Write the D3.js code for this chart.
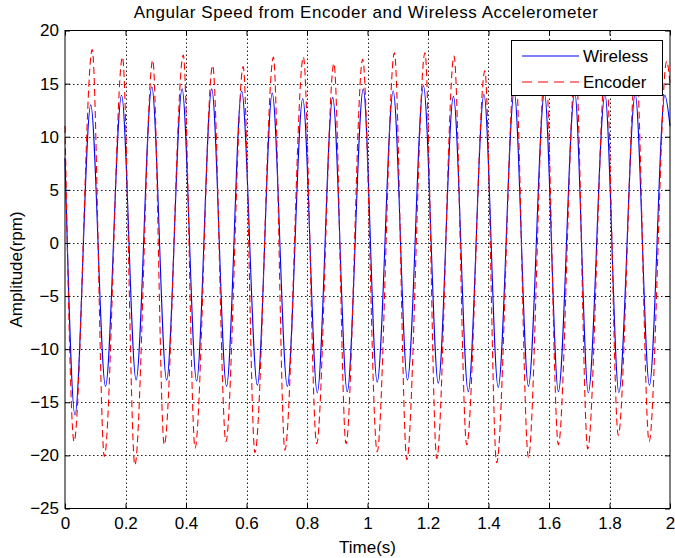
<!DOCTYPE html>
<html>
<head>
<meta charset="utf-8">
<script src="https://d3js.org/d3.v7.min.js"></script>
<style>
  body { margin: 0; background: #fff; }
  text { font-family: "Liberation Sans", Arial, sans-serif; fill: #000; }
</style>
</head>
<body>
<script>
// extrema of each trace (time in s, amplitude in rpm)
const wirelessT = [0, 0.033, 0.085, 0.134, 0.187, 0.235, 0.287, 0.336, 0.387, 0.435, 0.485,
  0.534, 0.584, 0.636, 0.685, 0.735, 0.786, 0.834, 0.885, 0.933, 0.986, 1.032, 1.085, 1.132,
  1.185, 1.234, 1.284, 1.333, 1.385, 1.432, 1.485, 1.532, 1.585, 1.631, 1.685, 1.730, 1.785,
  1.831, 1.885, 1.932, 1.983, 2.0];
const wirelessV = [8, -16.2, 13.0, -13.5, 13.9, -12.9, 14.7, -12.9, 14.5, -13.0, 14.5,
  -13.5, 14.3, -13.4, 14.1, -13.5, 13.6, -14.1, 13.7, -14.0, 14.5, -13.1, 14.3, -12.9,
  14.8, -13.2, 13.8, -14.0, 14.0, -13.6, 14.2, -13.5, 14.1, -14.0, 14.2, -14.1, 14.0,
  -14.1, 14.0, -13.4, 13.9, 11];

const encoderT = [0, 0.030, 0.090, 0.130, 0.190, 0.231, 0.290, 0.328, 0.391, 0.430, 0.488,
  0.532, 0.589, 0.628, 0.689, 0.727, 0.788, 0.832, 0.889, 0.929, 0.984, 1.032, 1.089, 1.130,
  1.190, 1.229, 1.286, 1.328, 1.388, 1.427, 1.488, 1.532, 1.588, 1.631, 1.688, 1.728, 1.788,
  1.829, 1.888, 1.931, 1.989, 2.0];
const encoderV = [11, -18.7, 18.2, -20.1, 17.5, -20.9, 17.2, -19.0, 17.7, -19.3, 16.7,
  -18.7, 16.6, -19.75, 17.5, -19.5, 17.5, -18.9, 16.9, -18.9, 17.3, -19.65, 17.9, -20.4,
  17.9, -20.3, 17.6, -19.0, 16.2, -20.7, 17.0, -20.2, 17.0, -19.0, 17.0, -19.4, 17.0,
  -18.1, 17.0, -18.7, 17.1, 15];

const xTicks = [0, 0.2, 0.4, 0.6, 0.8, 1, 1.2, 1.4, 1.6, 1.8, 2];
const yTicks = [-25, -20, -15, -10, -5, 0, 5, 10, 15, 20];
const seriesNames = ["Wireless", "Encoder"];

let width = 675,
    height = 558;
let pLeft = 65, pRight = 670, pTop = 30.5, pBottom = 508.5;

let svg = d3.select("body").append("svg")
    .attr("width", width)
    .attr("height", height);

let x = d3.scaleLinear().domain([0, 2]).range([pLeft, pRight]);
let y = d3.scaleLinear().domain([-25, 20]).range([pBottom, pTop]);

// grid
let grid = svg.append("g")
    .attr("stroke", "#222")
    .attr("stroke-width", 1)
    .attr("stroke-dasharray", "1.5,2.5");
grid.selectAll("line.gx")
    .data(xTicks.slice(1, -1))
    .join("line")
      .attr("class", "gx")
      .attr("x1", d => Math.round(x(d)) + 0.5)
      .attr("x2", d => Math.round(x(d)) + 0.5)
      .attr("y1", pTop)
      .attr("y2", pBottom);
grid.selectAll("line.gy")
    .data(yTicks.slice(1, -1))
    .join("line")
      .attr("class", "gy")
      .attr("x1", pLeft)
      .attr("x2", pRight)
      .attr("y1", d => Math.round(y(d)) + 0.5)
      .attr("y2", d => Math.round(y(d)) + 0.5);

// traces
let line = d3.line().curve(d3.curveMonotoneX);
let wirelessPts = wirelessT.map((t, i) => [x(t), y(wirelessV[i])]);
let encoderPts = encoderT.map((t, i) => [x(t), y(encoderV[i])]);

let plot = svg.append("g");
plot.append("path")
    .attr("d", line(wirelessPts))
    .attr("fill", "none")
    .attr("stroke", "#0000ff")
    .attr("stroke-width", 1.1);
plot.append("path")
    .attr("d", line(encoderPts))
    .attr("fill", "none")
    .attr("stroke", "#ff0000")
    .attr("stroke-width", 1.1)
    .attr("stroke-dasharray", "7,4");

// axes box with inward ticks
let axes = svg.append("g");
axes.append("rect")
    .attr("x", pLeft).attr("y", pTop)
    .attr("width", pRight - pLeft).attr("height", pBottom - pTop)
    .attr("fill", "none").attr("stroke", "#000").attr("stroke-width", 1);

let xAxisB = d3.axisBottom(x).tickValues(xTicks).tickSize(-5).tickPadding(8)
    .tickFormat(d3.format("~g"));
let xAxisT = d3.axisTop(x).tickValues(xTicks).tickSize(-5).tickFormat("");
let yAxisL = d3.axisLeft(y).tickValues(yTicks).tickSize(-5).tickPadding(6);
let yAxisR = d3.axisRight(y).tickValues(yTicks).tickSize(-5).tickFormat("");

[[xAxisB, `translate(0,${pBottom})`], [xAxisT, `translate(0,${pTop})`],
 [yAxisL, `translate(${pLeft},0)`], [yAxisR, `translate(${pRight},0)`]].forEach(([ax, tr]) => {
  let g = axes.append("g").attr("transform", tr).call(ax);
  g.select(".domain").remove();
  g.selectAll("line").attr("stroke", "#000");
  g.selectAll("text").attr("font-size", 17).attr("font-family", "Liberation Sans, Arial, sans-serif");
});

// title and labels
svg.append("text")
    .attr("x", 366).attr("y", 18)
    .attr("text-anchor", "middle").attr("font-size", 17)
    .attr("letter-spacing", "0.55px")
    .text("Angular Speed from Encoder and Wireless Accelerometer");
svg.append("text")
    .attr("x", (pLeft + pRight) / 2).attr("y", 553)
    .attr("text-anchor", "middle").attr("font-size", 17)
    .text("Time(s)");
svg.append("text")
    .attr("transform", `translate(22,${(pTop + pBottom) / 2}) rotate(-90)`)
    .attr("text-anchor", "middle").attr("font-size", 17)
    .text("Amplitude(rpm)");

// legend
let legend = svg.append("g");
legend.append("rect")
    .attr("x", 511.5).attr("y", 40.5)
    .attr("width", 151).attr("height", 55)
    .attr("fill", "#fff").attr("stroke", "#000");
let legendStyle = [
  {color: "#0000ff", dash: null},
  {color: "#ff0000", dash: "10,6"}
];
seriesNames.forEach((name, i) => {
  let ly = 56 + i * 26;
  legend.append("line")
      .attr("x1", 522).attr("x2", 579)
      .attr("y1", ly).attr("y2", ly)
      .attr("stroke", legendStyle[i].color)
      .attr("stroke-dasharray", legendStyle[i].dash);
  legend.append("text")
      .attr("x", 583).attr("y", ly + 6)
      .attr("font-size", 17)
      .text(name);
});
</script>
</body>
</html>
